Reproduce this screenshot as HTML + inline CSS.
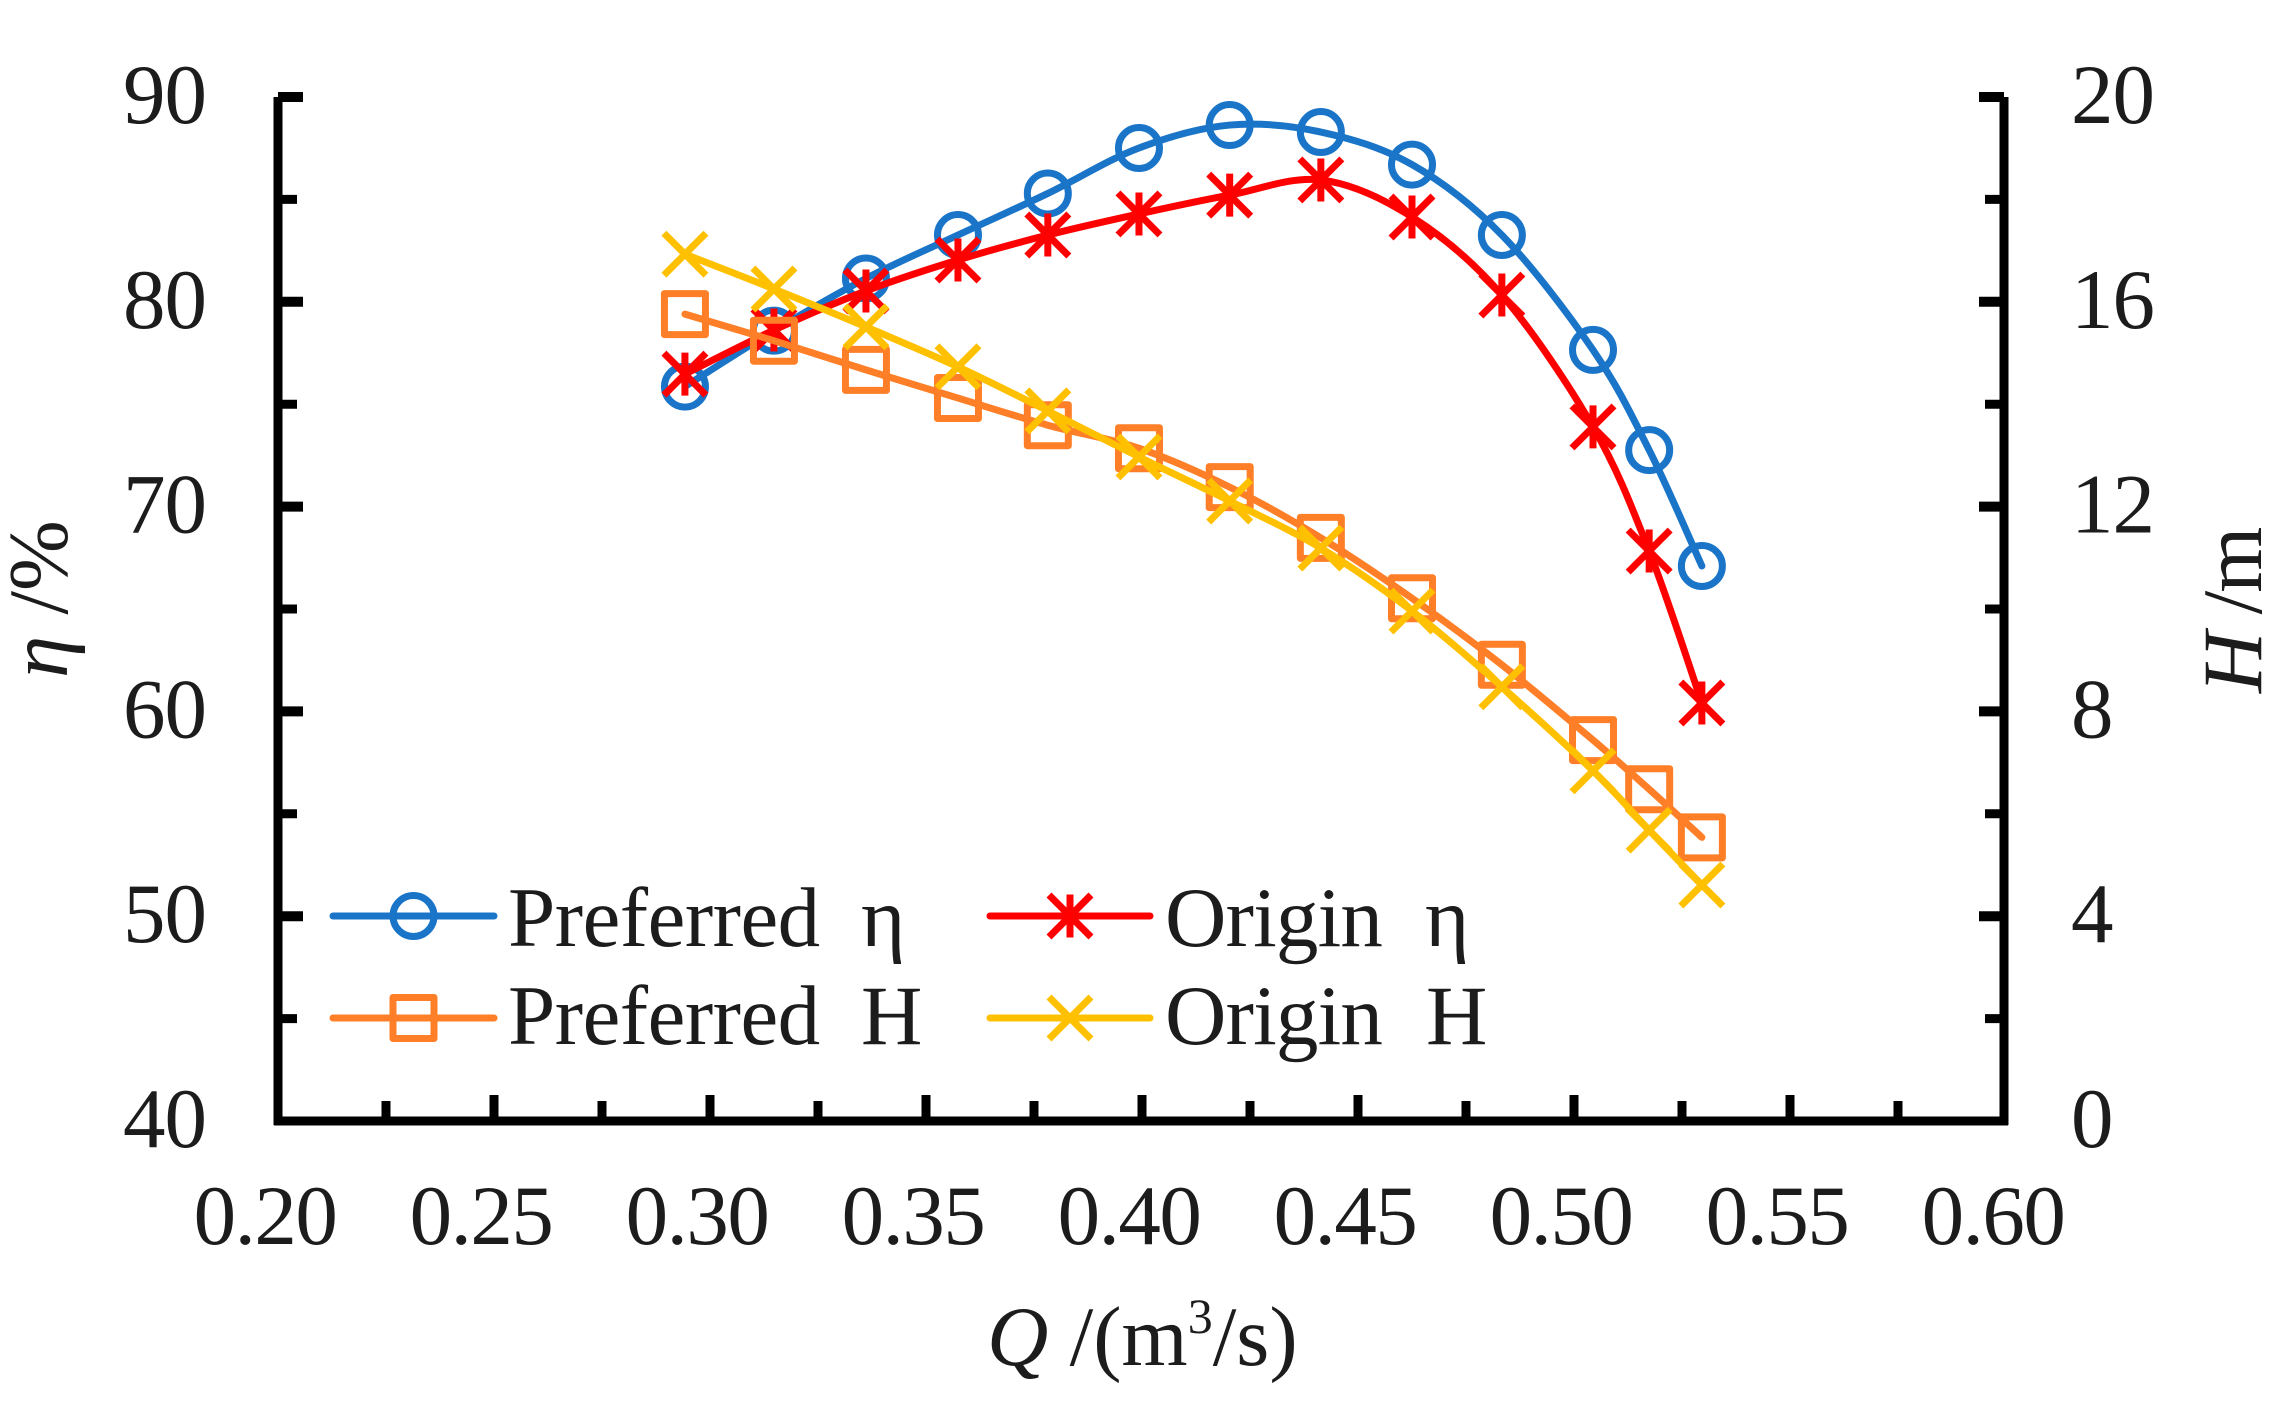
<!DOCTYPE html>
<html lang="en">
<head>
<meta charset="utf-8">
<title>Efficiency and head versus flow rate</title>
<style>
html,body{margin:0;padding:0;background:#fff;}
svg{display:block;}
text{font-family:"Liberation Serif","Noto Serif CJK SC",serif;font-size:85px;fill:#1c1c1c;}
</style>
</head>
<body>
<svg id="chart" xmlns="http://www.w3.org/2000/svg" width="2286" height="1408" viewBox="0 0 2286 1408">
  <rect x="0" y="0" width="2286" height="1408" fill="#fff"/>
  <g id="axes"></g>
  <g id="series"></g>
  <g id="legend"></g>
  <text x="987" y="1365"><tspan font-style="italic">Q</tspan> /(m<tspan font-size="50" dy="-32">3</tspan><tspan dy="32">/s)</tspan></text>
  <text transform="translate(67 678) rotate(-90)"><tspan font-style="italic">η</tspan> /%</text>
  <text transform="translate(2261 693) rotate(-90)" letter-spacing="-2"><tspan font-style="italic">H</tspan> /m</text>
</svg>
<script>
const flowRate = [0.2942,0.3148,0.3361,0.3574,0.3782,0.3993,0.4203,0.4414,0.4625,0.4833,0.5044,0.5174,0.5296];
const etaPreferred = [75.86,78.59,81.14,83.26,85.29,87.51,88.63,88.29,86.70,83.26,77.65,72.76,67.10];
const etaOrigin = [76.47,78.62,80.53,82.04,83.26,84.29,85.21,85.95,84.14,80.33,73.89,67.83,60.41];
const headPreferred = [15.76,15.24,14.67,14.12,13.59,13.14,12.38,11.39,10.21,8.91,7.44,6.48,5.54];
const headOrigin = [16.93,16.25,15.51,14.73,13.87,12.97,12.11,11.19,9.96,8.48,6.84,5.68,4.61];
const xTickLabels = ["0.20","0.25","0.30","0.35","0.40","0.45","0.50","0.55","0.60"];
const leftTickLabels = ["40","50","60","70","80","90"];
const rightTickLabels = ["0","4","8","12","16","20"];

const NS = "http://www.w3.org/2000/svg";
const X0 = 278, X1 = 2006, Y0 = 1121, Y1 = 97;
const xScale = q => X0 + (q - 0.20) / 0.40 * (X1 - X0);
const etaScale = v => Y0 - (v - 40) / 50 * (Y0 - Y1);
const headScale = v => Y0 - v / 20 * (Y0 - Y1);

function make(tag, parent, attrs) {
  const el = document.createElementNS(NS, tag);
  for (const k in attrs) el.setAttribute(k, attrs[k]);
  parent.appendChild(el);
  return el;
}
const axes = document.getElementById("axes");

function axisLine(x1, y1, x2, y2, name) {
  const el = make("line", axes, {x1, y1, x2, y2, stroke: "#000", "stroke-width": 9});
  
  
}
axisLine(X0, Y1, X0, Y0 + 4, "left-axis-line");
axisLine(X1 - 2, Y1, X1 - 2, Y0 + 4, "right-axis-line");
axisLine(X0 - 4, Y0, X1 + 2, Y0, "bottom-axis-line");

function tick(x1, y1, x2, y2, w, name) {
  const el = make("line", axes, {x1, y1, x2, y2, stroke: "#000", "stroke-width": w});
  
  
}
function label(x, y, str, anchor, spacing, name) {
  const el = make("text", axes, {x, y, "text-anchor": anchor, "letter-spacing": spacing});
  el.textContent = str;
  
  
}

// X ticks every 0.025, labelled every 0.05
xTickLabels.forEach((lab, i) => {
  const q = parseFloat(lab);
  const x = xScale(q);
  if (i > 0 && i < xTickLabels.length - 1) tick(x, Y0, x, 1095, 9, "x-major-tick");
  if (i < xTickLabels.length - 1) {
    const xm = xScale(q + 0.025);
    tick(xm, Y0, xm, 1101, 9, "x-minor-tick");
  }
  label(x - 13, 1244, lab, "middle", -1.5, "x-tick-label");
});

// Left axis ticks
leftTickLabels.forEach((lab, i) => {
  const v = parseFloat(lab);
  const y = etaScale(v);
  if (i > 0) tick(X0, y, 303, y, 10, "left-major-tick");
  if (i < leftTickLabels.length - 1) {
    const ym = etaScale(v + 5);
    tick(X0, ym, 297, ym, 9, "left-minor-tick");
  }
  label(206, y + 26, lab, "end", -1, "left-tick-label");
});

// Right axis ticks
rightTickLabels.forEach((lab, i) => {
  const v = parseFloat(lab);
  const y = headScale(v);
  if (i > 0) tick(X1 - 2, y, 1979, y, 10, "right-major-tick");
  if (i < rightTickLabels.length - 1) {
    const ym = headScale(v + 2);
    tick(X1 - 2, ym, 1985, ym, 9, "right-minor-tick");
  }
  label(2071, y + 26, lab, "start", -1, "right-tick-label");
});

const SW = 7;
function marker(parent, kind, x, y, color, name) {
  const g = make("g", parent, {fill: "none", stroke: color, "stroke-width": SW});
  
  
  const s = 20.5, d = 21;
  if (kind === "circle") {
    make("circle", g, {cx: x, cy: y, r: s});
  } else if (kind === "square") {
    make("rect", g, {x: x - s, y: y - s, width: 2 * s, height: 2 * s, "stroke-linejoin": "round"});
  } else {
    make("line", g, {x1: x - d, y1: y - d, x2: x + d, y2: y + d});
    make("line", g, {x1: x - d, y1: y + d, x2: x + d, y2: y - d});
    if (kind === "star") make("line", g, {x1: x, y1: y - d - 0.5, x2: x, y2: y + d + 0.5});
  }
}

function smoothPath(pts) {
  let d = "M" + pts[0][0] + " " + pts[0][1];
  for (let i = 0; i < pts.length - 1; i++) {
    const p0 = pts[Math.max(i - 1, 0)], p1 = pts[i], p2 = pts[i + 1], p3 = pts[Math.min(i + 2, pts.length - 1)];
    const c1x = p1[0] + (p2[0] - p0[0]) / 6, c1y = p1[1] + (p2[1] - p0[1]) / 6;
    const c2x = p2[0] - (p3[0] - p1[0]) / 6, c2y = p2[1] - (p3[1] - p1[1]) / 6;
    d += " C" + c1x + " " + c1y + " " + c2x + " " + c2y + " " + p2[0] + " " + p2[1];
  }
  return d;
}

const seriesGroup = document.getElementById("series");
function drawSeries(values, scale, kind, color, name) {
  const g = make("g", seriesGroup, {});
  
  
  const pts = values.map((v, i) => [xScale(flowRate[i]), scale(v)]);
  const path = make("path", g, {d: smoothPath(pts), fill: "none", stroke: color, "stroke-width": SW, "stroke-linecap": "round", "stroke-linejoin": "round"});
  
  
  pts.forEach(p => marker(g, kind, p[0], p[1], color, name + '-point'));
}
const BLUE = "#1a75c9", RED = "#ff0000", ORANGE = "#fe7f27", YELLOW = "#ffc000";
drawSeries(etaPreferred, etaScale, "circle", BLUE, "preferred-eta");
drawSeries(etaOrigin, etaScale, "star", RED, "origin-eta");
drawSeries(headPreferred, headScale, "square", ORANGE, "preferred-head");
drawSeries(headOrigin, headScale, "x", YELLOW, "origin-head");

// Legend
const legend = document.getElementById("legend");
function legendEntry(x1, x2, y, kind, color, word, wordX, symbol, symX, base, spacing, name) {
  const g = make("g", legend, {});
  
  
  const ln = make("line", g, {x1, y1: y, x2, y2: y, stroke: color, "stroke-width": SW, "stroke-linecap": "round"});
  
  
  marker(g, kind, (x1 + x2) / 2, y, color, name + '-marker');
  const t = make("text", g, {x: wordX, y: base});
  
  
  const a = make("tspan", t, {"letter-spacing": spacing});
  a.textContent = word;
  const b = make("tspan", t, {x: symX});
  b.textContent = symbol;
}
legendEntry(333, 494, 916, "circle", BLUE, "Preferred", 508, "η", 861, 946, -0.5, "legend-preferred-eta");
legendEntry(990, 1150, 916, "star", RED, "Origin", 1165, "η", 1425, 946, -0.8, "legend-origin-eta");
legendEntry(333, 494, 1018, "square", ORANGE, "Preferred", 508, "H", 861, 1044, -0.5, "legend-preferred-head");
legendEntry(990, 1150, 1018, "x", YELLOW, "Origin", 1165, "H", 1426, 1044, -0.8, "legend-origin-head");
</script>
</body>
</html>
